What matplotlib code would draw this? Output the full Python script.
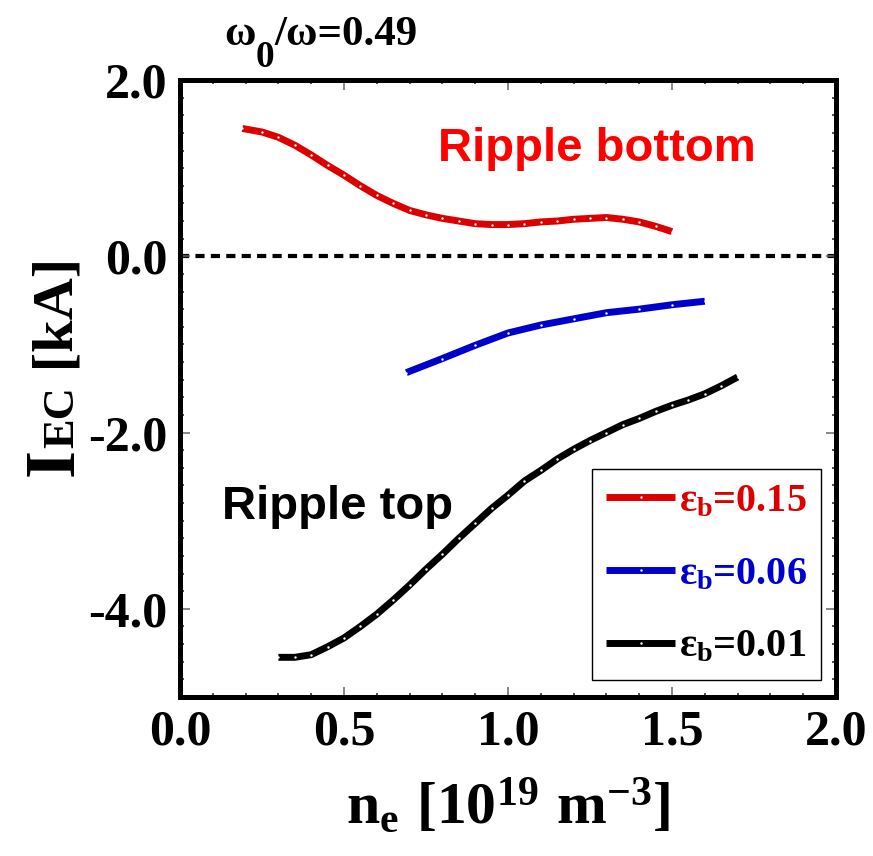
import matplotlib
matplotlib.use("Agg")
import matplotlib.pyplot as plt
from matplotlib.ticker import MultipleLocator

plt.rcParams['font.family'] = 'Liberation Serif'
plt.rcParams['font.weight'] = 'bold'
plt.rcParams['mathtext.fontset'] = 'custom'
plt.rcParams['mathtext.rm'] = 'Liberation Serif:bold'
plt.rcParams['mathtext.it'] = 'Liberation Serif:bold'
plt.rcParams['mathtext.bf'] = 'Liberation Serif:bold'

# eps_b = 0.15 (ripple bottom)
ne_red = [0.19, 0.25, 0.30, 0.35, 0.40, 0.45, 0.50, 0.55, 0.60, 0.65, 0.70, 0.75,
          0.80, 0.85, 0.90, 0.95, 1.00, 1.05, 1.10, 1.15, 1.20, 1.25, 1.30, 1.35,
          1.40, 1.45, 1.50]
iec_red = [1.45, 1.41, 1.35, 1.26, 1.15, 1.03, 0.92, 0.80, 0.69, 0.60, 0.52, 0.47,
           0.43, 0.40, 0.37, 0.36, 0.36, 0.37, 0.39, 0.40, 0.42, 0.43, 0.44, 0.42,
           0.39, 0.34, 0.28]

# eps_b = 0.06
ne_blue = [0.69, 0.80, 0.90, 1.00, 1.10, 1.20, 1.30, 1.40, 1.50, 1.60]
iec_blue = [-1.32, -1.16, -1.01, -0.87, -0.78, -0.71, -0.64, -0.60, -0.55, -0.51]

# eps_b = 0.01 (ripple top)
ne_black = [0.30, 0.35, 0.40, 0.45, 0.50, 0.55, 0.60, 0.65, 0.70, 0.75, 0.80, 0.85,
            0.90, 0.95, 1.00, 1.05, 1.10, 1.15, 1.20, 1.25, 1.30, 1.35, 1.40, 1.45,
            1.50, 1.55, 1.60, 1.65, 1.70]
iec_black = [-4.55, -4.55, -4.52, -4.43, -4.33, -4.20, -4.06, -3.90, -3.73, -3.55,
             -3.38, -3.20, -3.03, -2.86, -2.71, -2.55, -2.43, -2.30, -2.19, -2.09,
             -2.00, -1.91, -1.84, -1.76, -1.69, -1.63, -1.56, -1.47, -1.37]

xticks = [0.0, 0.5, 1.0, 1.5, 2.0]
yticks = [2.0, 0.0, -2.0, -4.0]

W, H = 873, 856
fig = plt.figure(figsize=(W / 100, H / 100), dpi=100)
ax = fig.add_axes([180 / W, 1 - 697 / H, 656 / W, 617 / H])

ax.axhline(0.0, color='black', lw=3, dashes=(2.2, 1.5), zorder=1)

series = [
    (ne_red, iec_red, '#dd0000', r'$\varepsilon_b$=0.15'),
    (ne_blue, iec_blue, '#0000cc', r'$\varepsilon_b$=0.06'),
    (ne_black, iec_black, 'black', r'$\varepsilon_b$=0.01'),
]
for x, y, c, lab in series:
    ax.plot(x, y, color=c, lw=5, solid_capstyle='butt', marker='.',
            markersize=1.5, markerfacecolor='white', markeredgecolor='white',
            label=lab, zorder=3)

ax.set_xlim(0.0, 2.0)
ax.set_ylim(-5.0, 2.0)
ax.set_xticks(xticks)
ax.set_yticks(yticks)
ax.set_xticklabels([f"{v:.1f}" for v in xticks])
ax.set_yticklabels([f"{v:.1f}" for v in yticks])
ax.xaxis.set_minor_locator(MultipleLocator(0.1))
ax.yaxis.set_minor_locator(MultipleLocator(0.2))
ax.tick_params(which='both', direction='in', top=True, right=True, labelsize=36)
ax.tick_params(which='major', length=7, width=1.1, color='#666666', pad=9)
ax.tick_params(which='minor', length=3, width=1.1, color='#222222')

for sp in ax.spines.values():
    sp.set_linewidth(3.6)

ax.set_xlabel(r'$\mathbf{n_e\ [10^{19}\ m^{-3}]}$', fontsize=43, labelpad=16)

ax.text(1.27, 1.22, 'Ripple bottom', color='#ff0000', fontsize=34,
        fontfamily='Liberation Sans', fontweight='bold', ha='center', va='center')
ax.text(0.48, -2.85, 'Ripple top', color='black', fontsize=34,
        fontfamily='Liberation Sans', fontweight='bold', ha='center', va='center')

leg = ax.legend(loc='lower right', bbox_to_anchor=(0.977, 0.028), borderaxespad=0,
                handlelength=1.7, handletextpad=0.1, labelspacing=0.88,
                borderpad=0.35, fancybox=False, framealpha=1,
                labelcolor='linecolor', prop={'size': 29})
leg.get_frame().set_edgecolor('black')
leg.get_frame().set_linewidth(1)

renderer = fig.canvas.get_renderer()


def chain_text(pieces, x0, y0, rotation=0):
    # lay out text pieces one after another, in pixel coordinates
    x, y = x0, y0
    for s, size, dy in pieces:
        if rotation:
            t = fig.text((x - dy) / W, y / H, s, fontsize=size, rotation=90,
                         rotation_mode='anchor', ha='left', va='baseline')
            y = t.get_window_extent(renderer).y1
        else:
            t = fig.text(x / W, (y - dy) / H, s, fontsize=size,
                         ha='left', va='baseline')
            x = t.get_window_extent(renderer).x1


# y label: I, small-cap EC, [kA]
chain_text([('I', 52, 0), ('EC', 32, 0), (' [kA]', 42, 0)], 73, H - 476, rotation=90)

# heading above the frame
chain_text([('\u03c9', 31, 0), ('0', 27, 22), ('/\u03c9=0.49', 31, 0)], 224, H - 45)

fig.savefig('out.png', dpi=100)
